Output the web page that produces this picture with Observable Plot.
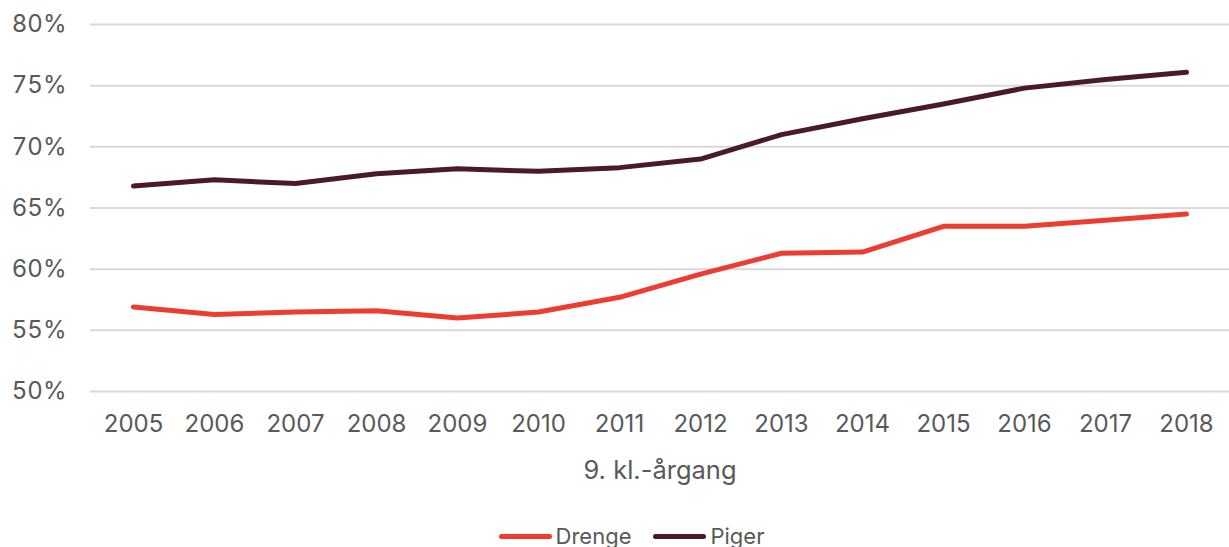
<!DOCTYPE html>
<html>
<head>
<meta charset="utf-8">
<script src="https://cdn.jsdelivr.net/npm/d3@7"></script>
<script src="https://cdn.jsdelivr.net/npm/@observablehq/plot@0.6"></script>
<style>
  html, body { margin: 0; padding: 0; background: #fff; }
  body { width: 1229px; height: 547px; overflow: hidden; font-family: Inter, "Noto Sans", sans-serif; }
  #legend { display: flex; justify-content: center; align-items: center; gap: 22px; margin-top: 23px; font-size: 22px; color: #595959; padding-left: 34px; }
  .item { display: flex; align-items: center; }
  .sw { width: 53px; height: 5px; border-radius: 3px; margin-right: 4px; }
</style>
</head>
<body>
<div id="chart"></div>
<div id="legend"></div>
<script>
const years = ["2005","2006","2007","2008","2009","2010","2011","2012","2013","2014","2015","2016","2017","2018"];
const drenge = [56.9, 56.3, 56.5, 56.6, 56.0, 56.5, 57.7, 59.6, 61.3, 61.4, 63.5, 63.5, 64.0, 64.5];
const piger  = [66.8, 67.3, 67.0, 67.8, 68.2, 68.0, 68.3, 69.0, 71.0, 72.3, 73.5, 74.8, 75.5, 76.1];
const seriesNames = ["Drenge", "Piger"];
const seriesColors = ["#ee3d30", "#4a1a28"];
const yTicks = [50, 55, 60, 65, 70, 75, 80];
const xLabel = "9. kl.-årgang";

const data = [];
years.forEach((y, i) => {
  data.push({year: y, value: drenge[i], series: seriesNames[0]});
  data.push({year: y, value: piger[i], series: seriesNames[1]});
});

const chart = Plot.plot({
  width: 1229,
  height: 500,
  marginTop: 24,
  marginLeft: 90,
  marginRight: 0,
  marginBottom: 109,
  style: {fontFamily: "Inter, 'Noto Sans', sans-serif", fontSize: "24px", color: "#595959", background: "#fff"},
  x: {type: "point", domain: years, padding: 0.5, label: null},
  y: {domain: [50, 80], ticks: yTicks, label: null},
  color: {domain: seriesNames, range: seriesColors},
  marks: [
    Plot.gridY(yTicks, {stroke: "#d9d9d9", strokeOpacity: 1, strokeWidth: 2}),
    Plot.axisY(yTicks, {tickSize: 0, tickPadding: 24, tickFormat: d => d + "%", fontSize: 24, fill: "#595959"}),
    Plot.axisX(years, {tickSize: 0, tickPadding: 23, fontSize: 24, fill: "#595959", label: null}),
    Plot.text([xLabel], {frameAnchor: "bottom", dy: 87, fontSize: 25.5, fill: "#595959"}),
    Plot.line(data, {x: "year", y: "value", z: "series", stroke: "series", strokeWidth: 5, strokeLinecap: "round", strokeLinejoin: "round"})
  ]
});
document.getElementById("chart").appendChild(chart);

const legend = document.getElementById("legend");
seriesNames.forEach((name, i) => {
  const item = document.createElement("div");
  item.className = "item";
  const sw = document.createElement("div");
  sw.className = "sw";
  sw.style.background = seriesColors[i];
  const label = document.createElement("span");
  label.textContent = name;
  item.appendChild(sw);
  item.appendChild(label);
  legend.appendChild(item);
});
</script>
</body>
</html>
